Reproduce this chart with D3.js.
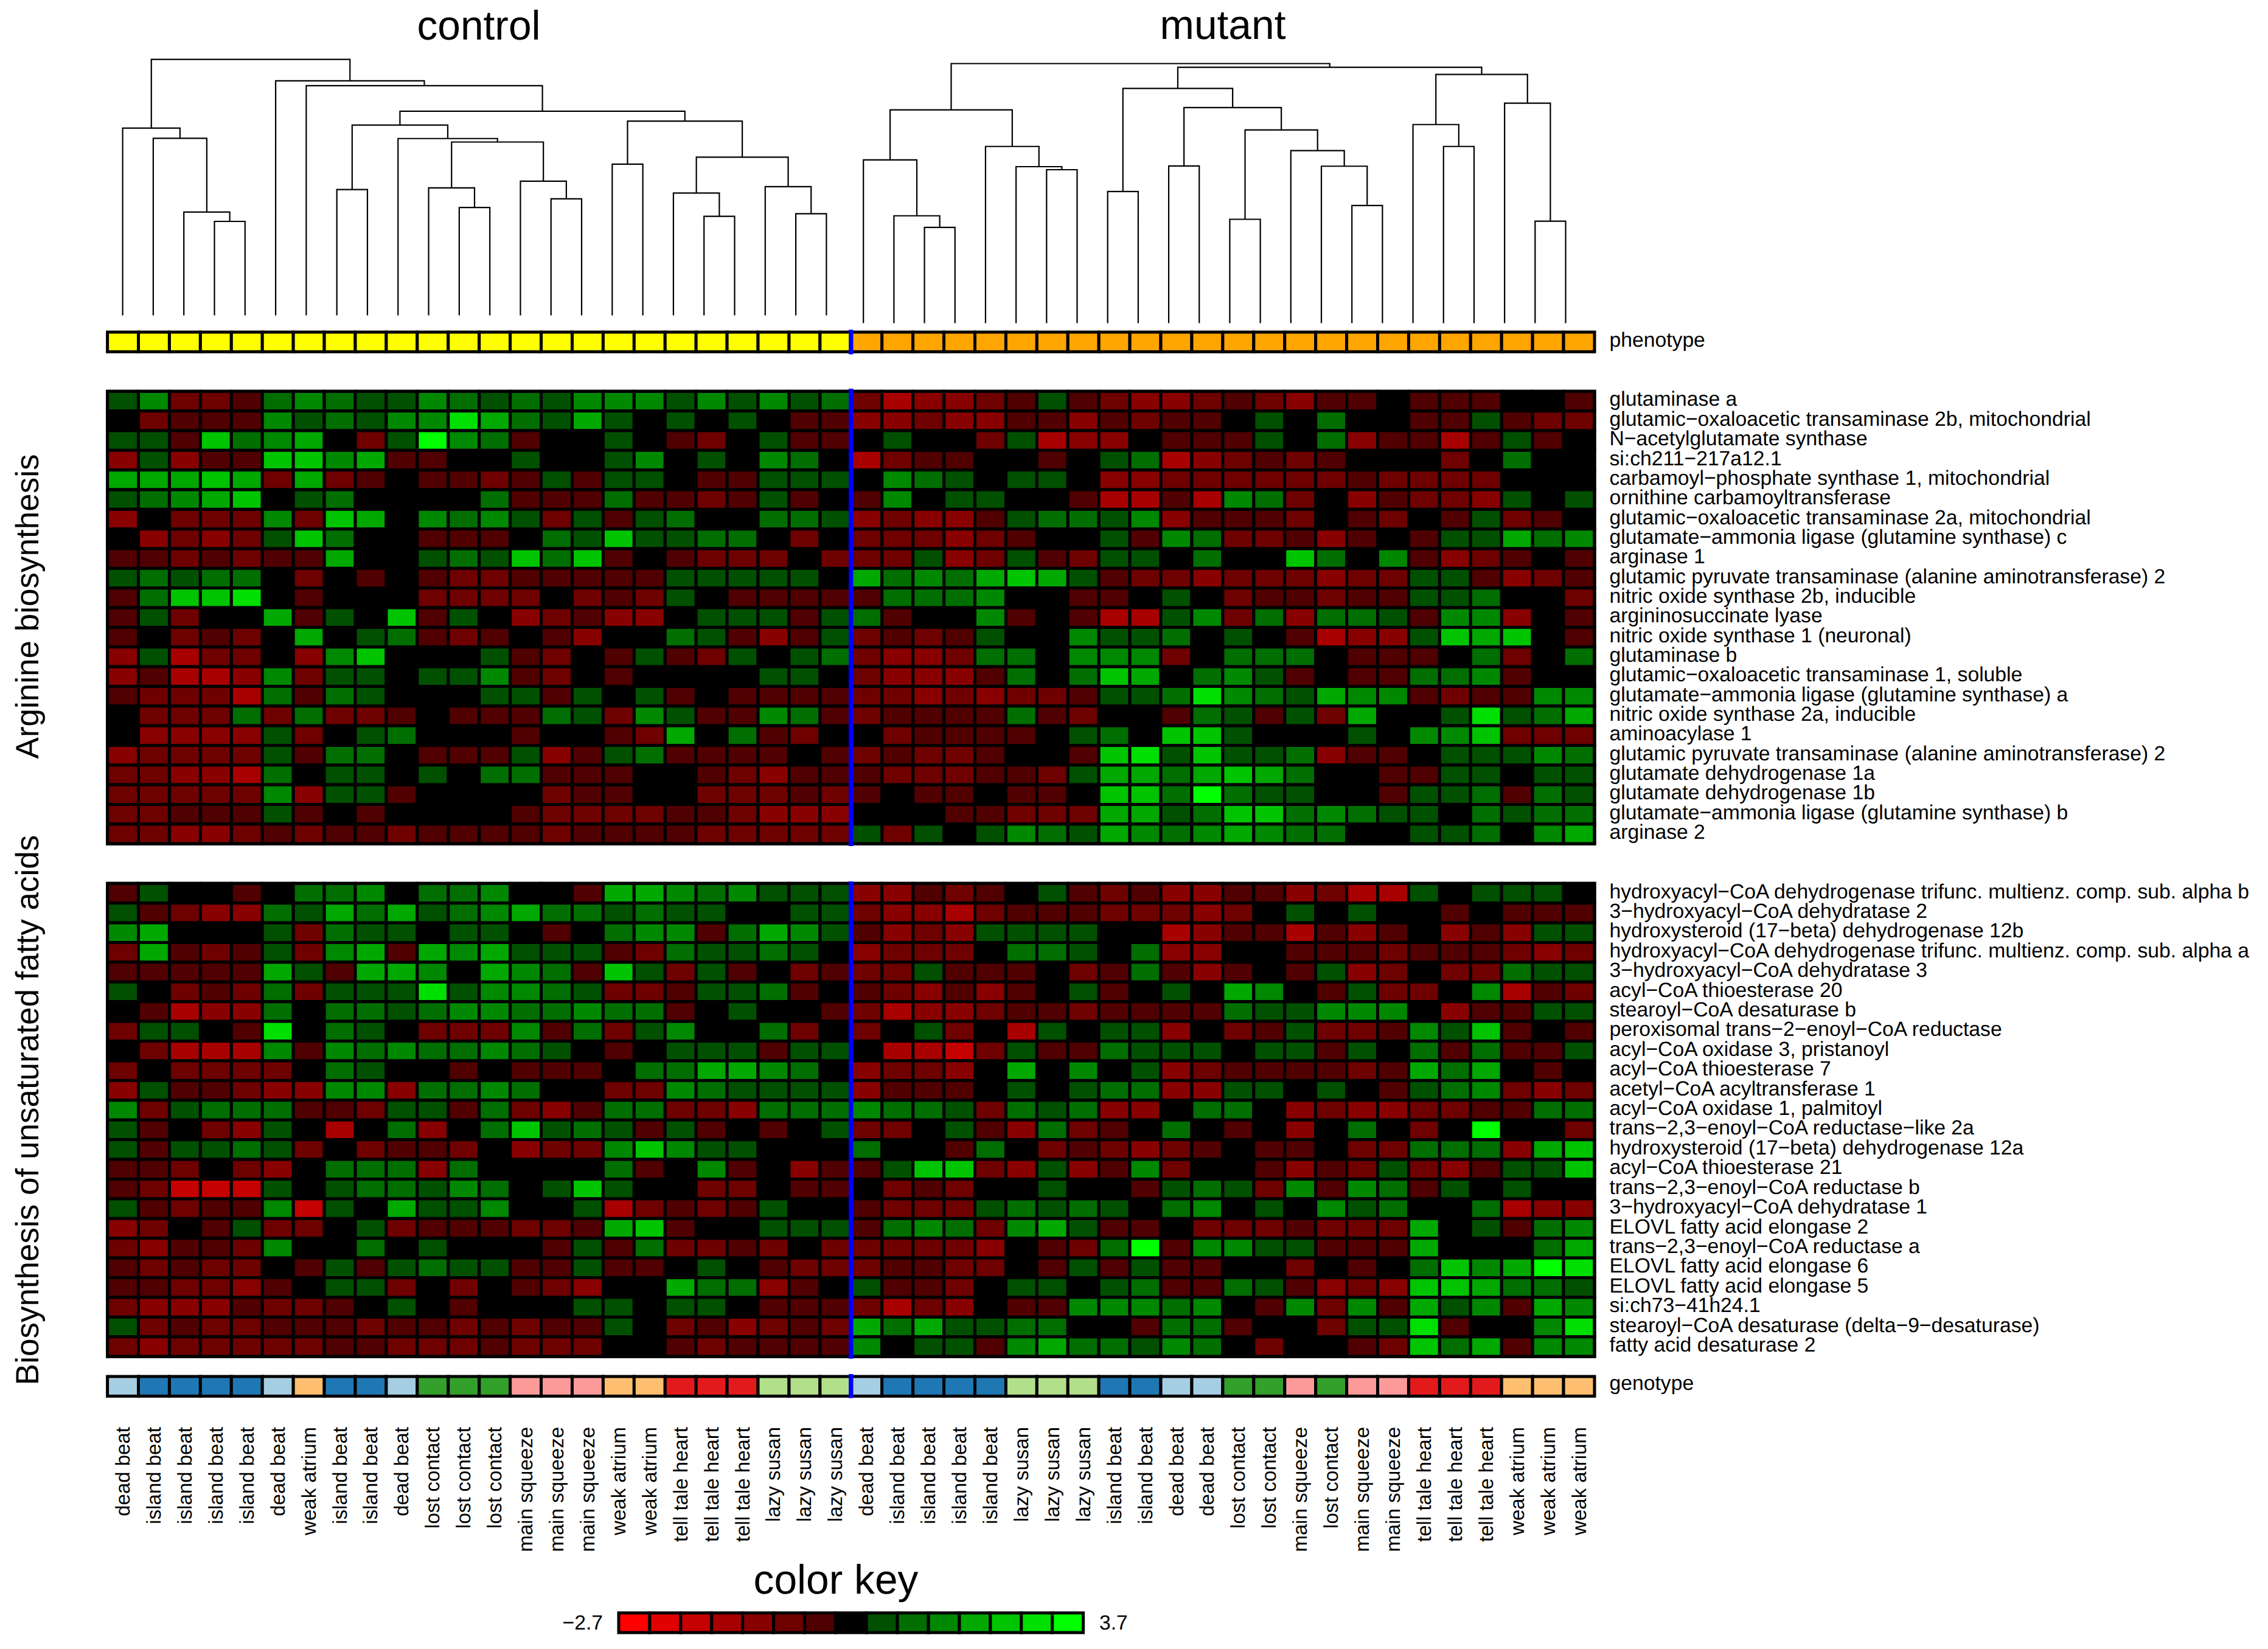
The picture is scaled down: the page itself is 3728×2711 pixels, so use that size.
<!DOCTYPE html>
<html>
<head>
<meta charset="utf-8">
<script src="https://cdn.jsdelivr.net/npm/d3@7"></script>
<style>
  html, body { margin: 0; padding: 0; background: #fff; }
  svg { display: block; }
  text { font-family: "Liberation Sans", Helvetica, Arial, sans-serif; fill: #000; text-rendering: geometricPrecision; }
</style>
</head>
<body>
<div class="chart"></div>
<script>
// gene names, top to bottom
const arginineGenes = [
  "glutaminase a",
  "glutamic−oxaloacetic transaminase 2b, mitochondrial",
  "N−acetylglutamate synthase",
  "si:ch211−217a12.1",
  "carbamoyl−phosphate synthase 1, mitochondrial",
  "ornithine carbamoyltransferase",
  "glutamic−oxaloacetic transaminase 2a, mitochondrial",
  "glutamate−ammonia ligase (glutamine synthase) c",
  "arginase 1",
  "glutamic pyruvate transaminase (alanine aminotransferase) 2",
  "nitric oxide synthase 2b, inducible",
  "argininosuccinate lyase",
  "nitric oxide synthase 1 (neuronal)",
  "glutaminase b",
  "glutamic−oxaloacetic transaminase 1, soluble",
  "glutamate−ammonia ligase (glutamine synthase) a",
  "nitric oxide synthase 2a, inducible",
  "aminoacylase 1",
  "glutamic pyruvate transaminase (alanine aminotransferase) 2",
  "glutamate dehydrogenase 1a",
  "glutamate dehydrogenase 1b",
  "glutamate−ammonia ligase (glutamine synthase) b",
  "arginase 2"
];

const fattyAcidGenes = [
  "hydroxyacyl−CoA dehydrogenase trifunc. multienz. comp. sub. alpha b",
  "3−hydroxyacyl−CoA dehydratase 2",
  "hydroxysteroid (17−beta) dehydrogenase 12b",
  "hydroxyacyl−CoA dehydrogenase trifunc. multienz. comp. sub. alpha a",
  "3−hydroxyacyl−CoA dehydratase 3",
  "acyl−CoA thioesterase 20",
  "stearoyl−CoA desaturase b",
  "peroxisomal trans−2−enoyl−CoA reductase",
  "acyl−CoA oxidase 3, pristanoyl",
  "acyl−CoA thioesterase 7",
  "acetyl−CoA acyltransferase 1",
  "acyl−CoA oxidase 1, palmitoyl",
  "trans−2,3−enoyl−CoA reductase−like 2a",
  "hydroxysteroid (17−beta) dehydrogenase 12a",
  "acyl−CoA thioesterase 21",
  "trans−2,3−enoyl−CoA reductase b",
  "3−hydroxyacyl−CoA dehydratase 1",
  "ELOVL fatty acid elongase 2",
  "trans−2,3−enoyl−CoA reductase a",
  "ELOVL fatty acid elongase 6",
  "ELOVL fatty acid elongase 5",
  "si:ch73−41h24.1",
  "stearoyl−CoA desaturase (delta−9−desaturase)",
  "fatty acid desaturase 2"
];

// sample genotype per column, left to right
const genotypes = [
  "dead beat","island beat","island beat","island beat","island beat","dead beat","weak atrium","island beat",
  "island beat","dead beat","lost contact","lost contact","lost contact","main squeeze","main squeeze","main squeeze",
  "weak atrium","weak atrium","tell tale heart","tell tale heart","tell tale heart","lazy susan","lazy susan","lazy susan",
  "dead beat","island beat","island beat","island beat","island beat","lazy susan","lazy susan","lazy susan",
  "island beat","island beat","dead beat","dead beat","lost contact","lost contact","main squeeze","lost contact",
  "main squeeze","main squeeze","tell tale heart","tell tale heart","tell tale heart","weak atrium","weak atrium","weak atrium"
];
const genotypeNames = ["dead beat","island beat","weak atrium","lost contact","main squeeze","tell tale heart","lazy susan"];
const genotypeColors = ["#a6cee3","#1f78b4","#fdbf6f","#33a02c","#fb9a99","#e31a1c","#b2df8a"];

// phenotype per column
const phenotypes = d3.range(48).map(i => i < 24 ? "control" : "mutant");

// heat map cells: color key step, -7 (most red) ... 7 (most green)
const arginineLevels = [
  [1,3,-2,-2,-1,2,3,2,1,1,3,2,1,2,1,3,3,3,1,3,1,3,1,2,-2,-4,-3,-3,-2,-1,1,-1,-2,-3,-3,-2,-1,-2,-3,-1,-1,0,-1,-1,-1,0,0,-1],
  [0,-2,-1,-1,-1,3,1,2,1,3,3,6,4,2,1,4,1,0,1,0,1,0,-1,-1,-3,-3,-2,-3,-3,-1,-1,-3,-1,-2,-1,-1,0,1,0,2,0,0,-1,-1,1,-1,-2,-2],
  [1,1,-1,5,2,3,4,0,-2,1,7,3,2,-1,0,0,1,0,-1,-2,0,1,-1,-1,0,1,0,0,-2,1,-4,-3,-3,0,-1,-1,-1,1,0,2,-3,-1,-1,-4,-1,1,-1,0],
  [-3,1,-3,-1,-1,5,5,3,4,-1,-1,0,0,1,0,0,1,3,0,1,0,3,2,0,-4,-2,-1,-1,0,0,-1,0,1,2,-4,-3,-2,-1,-2,-1,0,0,0,-2,0,2,0,0],
  [4,4,4,5,4,-2,4,-2,-1,0,-1,-1,-2,-1,1,-1,1,1,0,-1,-1,1,1,1,0,3,2,1,0,1,1,0,-3,-3,-2,-2,-2,-2,-2,-2,-1,-2,-2,-2,-2,0,0,0],
  [1,2,3,4,5,0,1,2,0,0,0,0,2,-1,-1,-1,2,-1,-1,-2,-1,1,-1,0,-1,3,0,1,1,0,0,-1,-4,-4,-1,-4,3,2,-2,0,-3,-1,-2,-2,-3,1,0,1],
  [-3,0,-2,-2,-2,3,-2,5,4,0,3,2,3,1,-2,1,-1,1,2,0,0,2,2,1,-3,-2,-3,-3,-1,1,2,2,1,3,-3,-1,-1,-1,-2,0,-1,-2,0,-1,1,-2,-1,0],
  [0,-3,-2,-3,-2,1,5,2,0,0,-1,-1,-1,0,2,1,5,1,1,2,2,0,-2,0,-2,-2,-2,-3,-2,-1,0,0,1,-1,3,2,-2,-2,-1,-3,-1,0,-1,1,1,4,2,3],
  [-1,-1,-2,-1,-2,-1,-1,4,0,0,1,2,1,5,2,5,-1,0,-1,-2,-2,-2,0,-2,-2,-2,1,-3,-2,1,-1,-2,1,1,0,2,0,0,5,2,0,3,-1,-3,-2,-1,0,-1],
  [1,2,1,2,2,0,-2,0,-1,0,-1,-2,-2,-1,-1,-1,-1,-1,1,1,1,1,1,0,4,2,3,2,4,5,4,1,-1,-2,-2,-3,-2,-2,-2,-3,-2,-2,1,1,-1,-3,-2,-1],
  [-1,2,5,5,6,0,-1,0,0,0,-2,-2,-2,-2,0,-2,-1,-2,1,0,-1,-1,-1,-1,-1,2,2,2,3,0,0,-1,-1,0,1,0,-2,-1,-1,-2,-1,-1,1,1,2,0,0,-2],
  [-1,1,-2,0,0,4,-1,1,0,5,-1,1,0,-3,-2,-1,-3,-3,0,1,1,1,-1,1,2,-1,0,0,3,-1,0,-1,-4,-4,1,3,-2,2,-3,2,2,1,-1,3,3,-3,0,-1],
  [-1,0,-2,-1,-2,0,4,0,1,2,-1,-2,-1,0,-1,-3,0,0,2,1,-1,-3,-1,1,-2,-1,-2,-1,1,0,0,3,1,1,2,0,1,0,-1,-4,-3,-3,1,5,4,5,0,-1],
  [-3,1,-4,-2,-2,0,-3,3,5,0,0,0,1,-1,-2,0,-1,1,-1,-2,1,0,1,2,-2,-3,-3,-2,2,2,0,3,3,3,-2,0,2,2,2,0,-1,-1,-1,0,2,-2,0,2],
  [-3,-1,-4,-4,-3,3,-2,1,1,0,1,1,3,-1,-2,0,-1,0,0,0,0,1,1,0,-2,-3,-3,-3,-1,2,0,2,5,4,0,2,3,1,-1,0,-1,-1,2,2,3,-1,0,0],
  [-1,-2,-2,-2,-4,2,-1,2,1,0,0,0,1,1,-1,1,0,1,-1,0,-1,-1,-1,-1,-2,-2,-3,-2,-3,-2,-2,-1,1,1,2,6,3,2,1,4,3,3,-1,-2,-1,-1,3,3],
  [0,-2,-2,-2,2,-2,2,-2,-2,-1,0,-1,-1,-1,2,1,-2,3,1,-1,-1,3,2,-1,-2,-1,-1,-1,-1,2,-1,-2,0,0,-1,2,1,-1,1,-2,4,0,0,1,6,1,2,4],
  [0,-3,-3,-3,-3,1,-2,0,1,2,0,0,0,-1,0,0,-1,-2,4,0,2,-1,-2,0,0,-2,-1,-1,-1,-1,0,1,2,0,5,5,1,0,0,0,1,0,3,3,5,-2,-2,-2],
  [-3,-2,-2,-2,-2,1,-1,2,2,0,-1,-1,-1,1,-3,-1,1,2,-1,-1,-1,-1,0,-1,-2,-1,-2,-2,-1,0,0,-1,5,6,1,5,1,1,2,-3,-1,-1,0,1,1,1,3,2],
  [-2,-2,-3,-3,-4,2,0,1,1,0,1,0,2,2,-1,-1,-1,0,0,-1,-2,-3,-1,-1,-1,-2,-2,-2,-1,-1,-2,1,4,4,2,4,5,4,2,0,0,-1,-1,1,1,0,1,1],
  [-2,-2,-2,-2,-2,3,-3,1,1,-1,0,0,0,0,-2,-1,-1,0,0,-2,-2,-2,-1,-2,-1,0,-1,-1,0,-1,-1,0,5,5,2,7,2,1,1,0,0,-1,1,1,2,-1,2,1],
  [-2,-2,-1,-1,-1,1,-1,0,-1,0,0,0,0,-1,-2,-2,-2,-2,-1,-1,-2,-3,-3,-3,0,0,0,-1,-1,-2,-2,-2,4,4,1,2,5,5,2,3,2,1,1,0,2,1,2,2],
  [-2,-2,-3,-3,-2,-1,-2,-1,-1,-2,-1,-1,-1,-1,-2,-1,-1,-1,-1,-2,-2,-2,-2,-2,1,-2,1,0,1,3,2,1,4,3,2,3,4,3,2,2,0,0,1,1,2,0,3,4]
];

const fattyAcidLevels = [
  [-1,1,0,0,-1,0,2,2,3,0,2,2,3,0,0,-1,4,4,3,2,3,1,1,1,-3,-3,-1,-2,-1,0,1,-1,-2,-1,-3,-3,-1,-1,-3,-2,-4,-4,1,0,1,1,1,0],
  [1,-1,-2,-3,-3,2,1,4,2,4,1,2,3,4,2,2,1,2,1,1,0,0,1,1,-2,-3,-3,-4,-2,-1,-1,-1,-2,-2,-2,-3,-2,0,1,0,1,0,0,-1,0,-1,-1,-1],
  [3,4,0,0,0,1,-2,2,1,1,0,1,1,0,-1,0,2,3,3,-1,2,4,3,1,-1,-3,-2,-3,1,1,1,1,0,0,-4,-3,-1,-1,-4,-1,-3,-1,0,-3,-1,-3,1,1],
  [-2,4,-1,-2,-1,1,-2,3,4,-1,4,3,4,1,1,1,-1,-2,2,1,1,2,1,0,-3,-2,-2,-2,0,2,2,1,0,2,-3,-3,0,0,-1,-1,-1,-2,-1,-1,-1,-2,-3,-2],
  [-1,-1,-1,-1,-1,4,1,-1,4,4,3,0,4,3,2,-1,5,1,-2,1,-1,0,-2,-1,-2,-2,1,-1,-1,-1,0,-2,-1,2,-1,-3,-1,0,-1,1,-3,-2,0,-2,-2,2,1,1],
  [1,0,-2,-1,-2,2,-2,1,1,1,6,1,3,3,2,1,-2,-2,-1,1,1,2,-1,0,-1,-2,-3,-1,-3,-1,0,1,-1,0,1,0,4,3,0,-1,1,-2,-2,0,3,-4,-1,-2],
  [0,-1,-4,-3,-3,2,0,2,2,1,2,3,3,2,2,3,2,2,-1,0,1,0,0,-1,-2,-4,-3,-3,-2,-1,-1,-2,-1,-1,-1,-1,2,1,1,3,3,3,0,-3,-1,-1,1,1],
  [-2,1,1,0,-1,6,0,2,1,0,-2,-2,-2,3,-1,2,-2,1,3,0,0,2,-2,0,-2,0,1,-2,0,-4,1,0,1,1,-3,0,-2,-1,1,-2,-2,-1,3,1,5,-1,0,-1],
  [0,-2,-4,-4,-4,3,-1,3,2,3,2,2,3,2,1,0,-1,0,1,1,1,-1,1,1,0,-4,-4,-5,-2,1,-1,-1,2,1,1,1,0,1,1,-1,1,0,2,-1,2,-1,-1,1],
  [-2,0,-2,-2,-2,-2,0,2,1,0,0,-1,0,-1,-1,-1,0,2,2,4,4,3,2,0,-3,-2,-2,-3,0,4,0,3,0,1,-3,-2,-1,-1,-1,-1,-2,-1,4,2,4,0,-1,0],
  [-3,1,-1,-1,-2,-3,-3,3,3,-3,2,2,3,2,0,0,-2,-2,3,2,1,1,1,1,-3,-1,-1,-1,0,1,0,1,2,2,-3,-3,1,1,0,1,0,-1,1,2,3,-2,-3,-2],
  [3,-2,1,2,2,2,-1,-1,-2,1,1,-1,2,-2,-3,-1,2,2,-2,-2,-3,2,2,2,3,2,2,1,-2,2,1,2,-3,-3,0,2,2,0,-3,-2,-3,-3,-2,-2,-1,-1,2,2],
  [1,-1,0,-2,-3,1,0,-4,0,2,-3,0,2,5,1,2,1,-1,1,-1,0,-1,0,1,-2,-2,0,1,-1,-3,2,-2,-1,0,2,0,-1,0,-3,0,2,0,-2,0,7,0,0,-2],
  [1,-1,1,1,2,1,-2,0,-2,-1,-1,-2,0,-3,-2,-2,3,5,3,1,1,0,0,0,2,0,0,-1,2,0,-2,-1,-2,-3,-2,-1,0,-1,-1,0,-2,-2,2,2,2,-3,4,5],
  [-1,-1,-2,0,-2,-3,0,2,2,2,-3,2,0,0,0,0,2,-1,0,3,-1,0,-3,-1,-1,1,5,5,-2,-3,1,-3,-1,3,-2,0,0,-1,-3,-1,-2,1,-2,-3,-1,1,1,5],
  [-1,-2,-5,-5,-5,1,0,1,2,2,1,3,2,0,1,5,1,0,0,-2,-2,0,-1,-1,0,-2,-1,-2,0,0,1,0,0,-1,1,2,1,-2,3,-1,3,2,-1,1,0,1,0,0],
  [1,-1,-2,-1,-1,3,-5,1,0,4,1,1,3,0,0,1,-4,-2,-1,-2,-1,1,0,0,-1,-2,-2,-2,1,2,1,2,1,0,2,3,0,1,0,3,1,2,0,0,2,-4,-3,-3],
  [-3,-2,0,-1,1,-2,-2,0,1,-2,-1,-1,-1,-2,-2,-1,4,5,-1,0,0,1,1,1,-1,2,3,2,-2,3,4,1,-1,-1,0,-2,-2,-2,-1,-2,-2,-2,4,0,1,-1,2,3],
  [-2,-3,-1,-1,-2,3,0,0,2,0,1,0,0,0,-1,1,-1,2,-2,-2,-1,-2,0,-2,-2,-2,-2,-2,-3,0,-1,-2,2,7,-1,3,3,1,1,-1,-1,-1,4,0,0,0,2,4],
  [-1,-2,-1,-2,-2,0,-1,1,-1,1,2,1,1,-1,-1,1,-1,-1,0,1,0,-1,-2,-2,-2,-1,-1,-2,-2,0,-1,1,-1,1,-1,-1,0,0,-2,0,-1,0,2,5,3,4,7,6],
  [-1,-1,-2,-2,-3,-1,0,1,1,-2,0,-2,0,-1,-2,-3,0,0,4,2,2,-3,-1,0,1,-1,-1,-2,0,1,1,0,1,2,-1,-1,2,1,-1,-3,-2,-3,5,5,4,2,2,1],
  [-2,-3,-3,-3,-1,-2,-2,-1,0,1,0,-1,0,0,0,1,1,0,1,1,0,-1,-1,-1,-2,-4,-2,-3,0,-1,-1,3,3,3,2,3,0,-1,3,-2,3,-1,4,1,3,-1,4,3],
  [1,-2,-1,-2,-2,-1,-1,-1,-2,-1,-1,-2,-1,-2,-1,-1,1,0,-2,-1,-3,-2,-1,-2,4,2,4,1,1,2,2,0,0,-1,2,2,-1,0,0,-2,1,1,6,-1,0,0,3,6],
  [-2,-3,-2,-2,-2,-2,-2,-1,-1,-2,-2,-2,-1,-2,-2,-2,0,0,-1,-2,-1,-1,-1,-1,3,0,1,1,-1,3,4,2,2,1,3,2,0,-2,0,0,-1,-2,5,2,4,-1,3,3]
];

// color key
const keySteps = d3.range(-7, 8);
const keyColors = [
  "#ff0000","#e00000","#c40000","#a80000","#880000","#6e0000","#500000","#000000",
  "#005000","#006e00","#008800","#00a800","#00c400","#00e000","#00ff00"
];
const keyLabels = ["−2.7", "3.7"];

// dendrograms, hclust style: [left, right, height], negative = leaf, positive = earlier merge row
const controlMerges = [
  [-4,-5,404],[-3,1,444],[-2,2,761],[-1,3,805],[-8,-9,541],[-12,-13,464],[-11,6,548],[-15,-16,501],
  [-14,8,577],[7,9,745],[-10,10,760],[5,11,818],[-17,-18,650],[-20,-21,426],[-19,14,526],[-23,-24,437],
  [-22,16,553],[15,17,680],[13,18,835],[12,19,877],[-7,20,987],[-6,21,1008],[4,22,1100]
];
const mutantMerges = [
  [-3,-4,411],[-2,1,461],[-1,2,701],[-7,-8,659],[-6,4,672],[-5,5,759],[3,6,916],[-9,-10,565],
  [-11,-12,675],[-13,-14,446],[-17,-18,505],[-16,11,674],[-15,12,741],[10,13,830],[9,14,926],[8,15,1008],
  [-20,-21,759],[-19,17,853],[-23,-24,438],[-22,19,945],[18,20,1068],[16,21,1099],[7,22,1115]
];

const width = 3728, height = 2711;

const svg = d3.select(".chart").append("svg")
  .attr("width", width)
  .attr("height", height)
  .attr("viewBox", `0 0 ${width} ${height}`);

svg.append("rect").attr("width", width).attr("height", height).attr("fill", "#fff");

const columns = d3.range(48);
const xScale = d3.scaleBand().domain(columns).range([176.6, 2621]);

const levelColor = d3.scaleOrdinal().domain(keySteps).range(keyColors);
const genotypeColor = d3.scaleOrdinal().domain(genotypeNames).range(genotypeColors);
const phenotypeColor = d3.scaleOrdinal().domain(["control", "mutant"]).range(["#ffff00", "#ffa500"]);

const cellStroke = 5;

// one row of framed cells
const drawRow = (g, values, x, y, h, color) => {
  g.selectAll("rect.c" + Math.round(y))
    .data(values)
    .enter()
    .append("rect")
      .attr("class", "c" + Math.round(y))
      .attr("x", (_, i) => x(x.domain()[i]))
      .attr("y", y)
      .attr("width", x.bandwidth())
      .attr("height", h)
      .attr("fill", d => color(d))
      .attr("stroke", "#000")
      .attr("stroke-width", cellStroke);
};

const drawLabel = (txt, x, y, size) => svg.append("text")
  .attr("x", x)
  .attr("y", y)
  .attr("font-size", size)
  .text(txt);

const drawHeat = (levels, genes, top, bottom) => {
  const yScale = d3.scaleBand().domain(d3.range(genes.length)).range([top, bottom]);
  const g = svg.append("g");
  levels.forEach((row, r) => drawRow(g, row, xScale, yScale(r), yScale.bandwidth(), levelColor));
  g.append("rect")
    .attr("x", xScale.range()[0])
    .attr("y", top)
    .attr("width", xScale.range()[1] - xScale.range()[0])
    .attr("height", bottom - top)
    .attr("fill", "none")
    .attr("stroke", "#000")
    .attr("stroke-width", cellStroke);
  genes.forEach((name, r) => drawLabel(name, 2645.5, yScale(r) + yScale.bandwidth() / 2 + 8, 33.7));
};

drawHeat(arginineLevels, arginineGenes, 643.3, 1387.2);
drawHeat(fattyAcidLevels, fattyAcidGenes, 1452.3, 2230.2);

// annotation bars
const barHeight = 32.3;
drawRow(svg.append("g"), phenotypes, xScale, 546, barHeight, phenotypeColor);
drawRow(svg.append("g"), genotypes, xScale, 2263, barHeight, genotypeColor);
drawLabel("phenotype", 2645.5, 570, 33.7);
drawLabel("genotype", 2645.5, 2285, 33.7);

// control / mutant separator
const splitX = xScale(24);
[[542, 582.5], [639, 1391], [1449, 2233.7], [2259, 2298.5]].forEach(([y1, y2]) => {
  svg.append("line")
    .attr("x1", splitX).attr("x2", splitX)
    .attr("y1", y1).attr("y2", y2)
    .attr("stroke", "#0000ff")
    .attr("stroke-width", 7.4);
});

// dendrograms
const drawDendrogram = (merges, xRange, baseY) => {
  const leafX = d3.scalePoint().domain(d3.range(1, 25)).range(xRange);
  const hScale = d3.scaleLinear().domain([0, 1400]).range([baseY, baseY - 1400 / 2.613]);
  const nodes = [];
  const pos = id => id < 0 ? { x: leafX(-id), y: baseY } : nodes[id - 1];
  const path = d3.path();
  merges.forEach(([a, b, h]) => {
    const l = pos(a), r = pos(b), y = hScale(h);
    path.moveTo(l.x, l.y);
    path.lineTo(l.x, y);
    path.lineTo(r.x, y);
    path.lineTo(r.x, r.y);
    nodes.push({ x: (l.x + r.x) / 2, y });
  });
  svg.append("path")
    .attr("d", path.toString())
    .attr("fill", "none")
    .attr("stroke", "#000")
    .attr("stroke-width", 2.2);
};

drawDendrogram(controlMerges, [201.6, 1358.4], 518.6);
drawDendrogram(mutantMerges, [1419.2, 2573.5], 531.2);

// rotated sample names
svg.append("g").selectAll("text")
  .data(genotypes)
  .enter()
  .append("text")
    .attr("transform", (_, i) => `translate(${xScale(i) + xScale.bandwidth() / 2 + 11},2346) rotate(-90)`)
    .attr("text-anchor", "end")
    .attr("font-size", 33)
    .text(d => d);

// titles
const title = (txt, x, y) => drawLabel(txt, x, y, 67.7).attr("text-anchor", "middle");
title("control", 787, 65);
title("mutant", 2010, 64);
title("color key", 1374, 2620);

const sideLabel = (txt, cy) => svg.append("text")
  .attr("transform", `translate(63,${cy}) rotate(-90)`)
  .attr("text-anchor", "middle")
  .attr("font-size", 53)
  .text(txt);
sideLabel("Arginine biosynthesis", 997);
sideLabel("Biosynthesis of unsaturated fatty acids", 1825);

// color key
const keyX = d3.scaleBand().domain(keySteps).range([1017, 1780.6]);
drawRow(svg.append("g"), keySteps, keyX, 2651.7, barHeight, levelColor);
drawLabel(keyLabels[0], 991, 2679, 33.7).attr("text-anchor", "end");
drawLabel(keyLabels[1], 1807, 2679, 33.7);
</script>
</body>
</html>
